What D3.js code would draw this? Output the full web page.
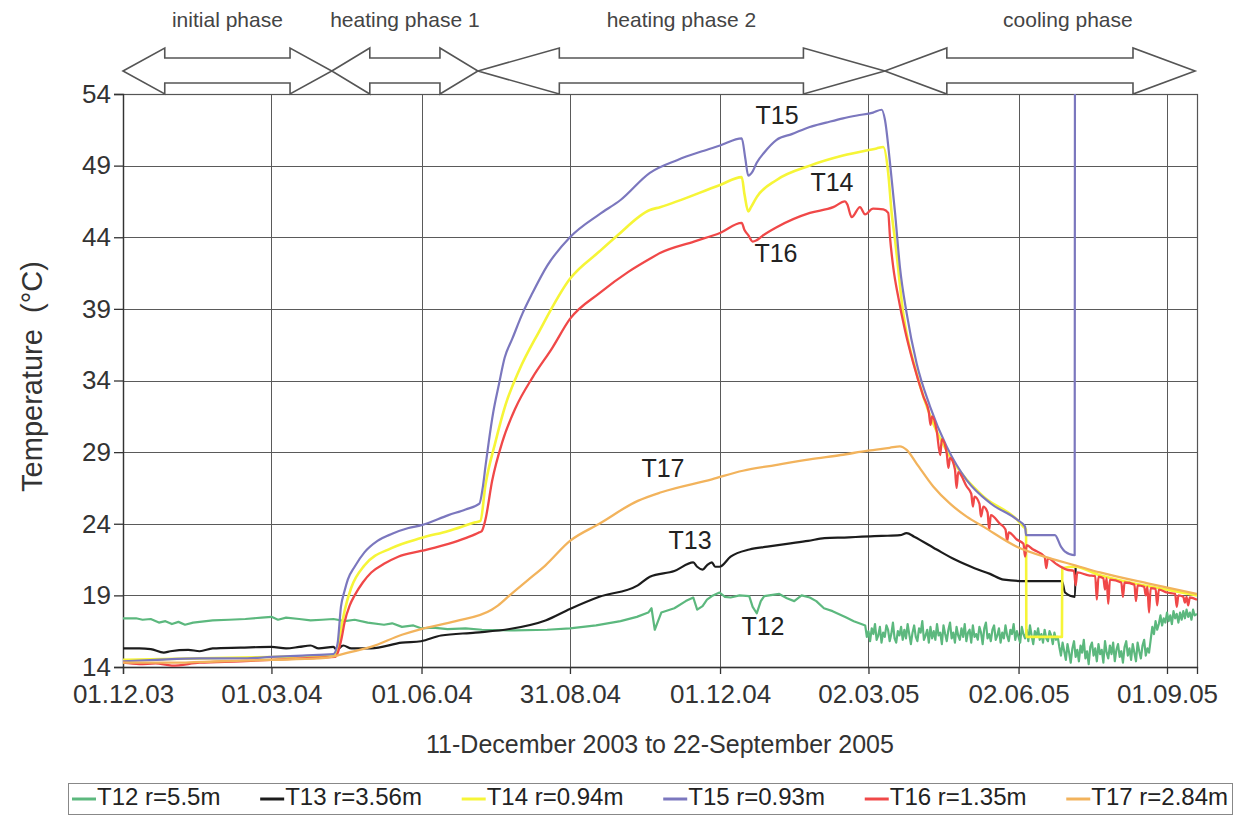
<!DOCTYPE html>
<html><head><meta charset="utf-8">
<script src="https://cdn.jsdelivr.net/npm/d3@7"></script>
<style>body{margin:0;background:#fff} text{font-family:"Liberation Sans",Arial,Helvetica,sans-serif}</style>
</head><body><svg id="c" width="1240" height="816"></svg>
<script>
// ---------- DATA ----------
const startDate = "2003-12-01";          // day 0
const endDay = 658.4;                     // last day shown (days since start)
const xTickDates = ["2003-12-01","2004-03-01","2004-06-01","2004-08-31","2004-12-01","2005-03-02","2005-06-02","2005-09-01"];
const yTicks = [14,19,24,29,34,39,44,49,54];
const seriesNames = ["T12","T13","T14","T15","T16","T17"];
const seriesRadii = ["r=5.5m","r=3.56m","r=0.94m","r=0.93m","r=1.35m","r=2.84m"];
const phaseNames = ["initial phase","heating phase 1","heating phase 2","cooling phase"];
const phaseStartDays = [0,128,217.6,467];
const phaseEndDays = [128,217.6,467,657.2];

// [days since 01.12.2003, temperature °C]
const t12 = [[0,17.4],[8,17.4],[12,17.3],[17,17.35],[22,17.1],[26,17.2],[30,17.0],[34,17.15],[38,16.95],[43,17.1],[47,17.15],[55,17.25],[65,17.3],[75,17.35],[85,17.45],[91,17.5],[95,17.3],[100,17.45],[108,17.35],[115,17.25],[122,17.3],[129,17.35],[136,17.2],[142,17.3],[150,17.1],[160,16.95],[165,17.05],[171,16.8],[178,16.9],[182.7,16.7],[190,16.75],[199,16.65],[210,16.7],[220,16.6],[240,16.55],[260,16.6],[274,16.7],[290,16.9],[305,17.2],[315,17.5],[322,17.8],[324,18.1],[326,16.6],[328,17.2],[330,17.8],[338,18.1],[345,18.6],[349.6,18.85],[352,18.0],[355.3,18.25],[358,18.7],[361,18.95],[365.7,19.2],[369,18.9],[372.5,18.85],[378,19.0],[383.9,18.95],[386,18.2],[388.5,17.75],[391,18.6],[393.1,18.95],[402.3,19.1],[407,18.8],[411.5,18.6],[416,19.0],[421,18.85],[425,18.6],[429.7,18.1],[435,17.9],[443.4,17.45],[448,17.2],[452.6,17.0],
[455,16.9],[456,16.1],[457,16.5],[458,15.8],[459,16.7],[460,16.3],[461,17.0],[462,15.9],[463,16.2],[464,16.8],[465,15.7],[466,16.4],[467,16.1],[468,16.9],[469,16.6],[470,15.8],[471,16.3],[472,17.1],[473,16.0],[474,15.7],[475,16.5],[476,16.2],[477,16.8],[478,15.9],[479,16.6],[480,16.0],[481,17.0],[482,16.3],[483,15.6],[484,16.4],[485,16.9],[486,16.1],[487,15.8],[488,16.7],[489,16.4],[490,17.2],[491,15.9],[492,16.2],[493,16.6],[494,15.7],[495,16.8],[496,16.0],[497,16.5],[498,15.9],[499,17.0],[500,16.2],[501,16.4],[502,15.6],[503,16.9],[504,16.3],[505,15.8],[506,16.6],[507,17.1],[508,16.0],[509,16.4],[510,15.7],[511,16.8],[512,16.2],[513,15.9],[514,16.7],[515,16.1],[516,17.0],[517,15.8],[518,16.4],[519,16.6],[520,15.7],[521,16.9],[522,16.1],[523,16.3],[524,15.9],[525,16.8],[526,16.4],[527,15.6],[528,16.7],[529,17.1],[530,16.0],[531,16.3],[532,15.8],[533,16.6],[534,16.9],[535,15.9],[536,16.2],[537,16.7],[538,15.7],[539,16.4],[540,16.0],[541,16.9],[542,16.2],[543,15.8],[544,16.6],[545,16.3],[546,17.0],[547,15.9],[548,16.5],[549,16.1],[550,15.7],[551,16.8],[552,16.3],[553,16.0],[554,16.6],[555,15.8],[556,16.9],[557,16.2],[558,15.6],[559,16.5],[560,16.1],[561,16.7],[562,15.9],[563,16.3],[564,15.7],[565,16.6],[566,16.0],[567,15.8],[568,16.5],[569,16.2],[570,15.6],[571,16.4],[572,15.9],[573,16.1],
[574,15.4],[575,14.8],[576,15.7],[577,15.1],[578,14.5],[579,15.6],[580,15.0],[581,14.3],[582,15.3],[583,15.8],[584,14.7],[585,15.2],[586,14.4],[587,15.5],[588,15.0],[589,15.9],[590,14.6],[591,15.1],[592,14.2],[593,15.4],[594,15.7],[595,14.8],[596,15.3],[597,14.4],[598,15.6],[599,14.9],[600,15.2],[601,14.3],[602,15.8],[603,15.0],[604,14.6],[605,15.5],[606,14.9],[607,15.7],[608,14.4],[609,15.2],[610,15.6],[611,14.7],[612,15.1],[613,14.3],[614,15.4],[615,15.8],[616,14.8],[617,15.3],[618,14.5],[619,15.6],[620,15.0],[621,14.4],[622,15.7],[623,15.1],[624,14.6],[625,15.5],[626,15.9],[627,14.8],[628,15.3],[629,15.0],
[630,15.9],[631,16.8],[632,16.3],[633,17.2],[634,16.6],[635,17.0],[636,17.6],[637,16.9],[638,17.4],[639,17.1],[640,17.8],[641,17.2],[642,17.6],[643,17.0],[644,17.9],[645,17.4],[646,17.7],[647,17.1],[648,17.8],[649,17.3],[650,17.9],[651,17.4],[652,18.0],[653,17.5],[654,17.8],[655,17.3],[656,18.0],[657,17.6],[658.4,17.7]];

const t13 = [[0,15.3],[10,15.3],[17,15.25],[25,15.0],[29,15.1],[40,15.2],[47,15.1],[55,15.3],[72,15.35],[91,15.4],[100,15.3],[108,15.4],[115,15.5],[120,15.3],[129,15.4],[131,15.2],[135,15.5],[140,15.3],[152,15.3],[171,15.7],[182.7,15.8],[195,16.2],[216,16.4],[237,16.65],[259,17.25],[274,18.05],[292,18.9],[315.6,19.7],[323,20.3],[338,20.7],[349.6,21.3],[352,21.0],[355.3,20.8],[358,21.1],[361,21.3],[363,21.0],[365.7,21.0],[372.5,21.7],[384,22.2],[395,22.4],[407,22.6],[420,22.8],[430,23.0],[445,23.05],[453,23.1],[465,23.15],[476.3,23.2],[480.4,23.35],[485,23.1],[498.8,22.2],[510,21.5],[522,20.9],[531.5,20.5],[540,20.1],[553,20.0],[575.6,20.0],[577.5,19.2],[583.6,18.9],[584,21.0]];

const t14 = [[0,14.5],[47,14.6],[91,14.7],[129,14.8],[131.7,15.3],[133.6,16.6],[136,18.0],[139.8,19.5],[148.1,21.1],[164.6,22.3],[182.7,23.0],[199.5,23.5],[216,24.1],[219.1,24.2],[222.2,26.7],[228.3,29.7],[234.5,32.3],[242.8,34.7],[255,37.4],[274,41.1],[292,43.0],[302.4,44.05],[323,45.9],[329.2,46.1],[366,47.65],[379.3,48.2],[381,47.0],[383.3,45.8],[385,46.1],[388.5,46.8],[400.7,48.0],[421.1,49.0],[441.4,49.7],[462,50.2],[466.1,50.3],[469.1,48.5],[471.2,45.7],[473.3,43.8],[478.3,38.7],[486.5,34.5],[496.7,31.0],[507,28.7],[527.4,25.9],[547.9,24.3],[551.9,23.8],[553.6,23.6],[553.8,16.1],[575.6,16.1],[575.8,20.9],[583.6,21.0],[598.9,20.4],[617.3,19.9],[640,19.4],[658.4,19.0]];

const t15 = [[0,14.4],[20,14.5],[47,14.6],[72,14.6],[91,14.7],[110,14.8],[129,14.9],[131.5,15.6],[133.6,18.2],[135.8,19.3],[137.8,20.1],[142,21.0],[148,22.0],[156,22.8],[165,23.3],[175,23.7],[183,23.9],[199.5,24.6],[210,25.0],[218.5,25.4],[220.5,26.5],[222.2,28.0],[224.2,29.7],[227,31.8],[230.4,33.7],[234,35.6],[238.6,36.9],[245,38.7],[251,40.1],[260,42.0],[274,44.0],[292,45.6],[305,46.6],[323,48.5],[340,49.4],[355,50.0],[366,50.4],[379.3,50.9],[381.5,49.5],[383.3,48.3],[386,48.6],[388.5,49.2],[393,49.9],[400.7,50.8],[410,51.2],[421,51.7],[431,52.0],[441.4,52.3],[450,52.5],[459.8,52.7],[465.1,52.9],[467.1,52.2],[470.2,49.2],[473.3,45.7],[476.3,41.9],[480.4,38.7],[486.5,35.2],[494.7,32.2],[504.9,29.4],[517.2,27.05],[531.5,25.45],[547.9,24.3],[553,23.8],[553.6,23.2],[571.3,23.2],[575,22.4],[577.5,22.05],[583.4,21.8],[583.6,60]];

const t16 = [[0,14.3],[10,14.2],[20,14.25],[30,14.1],[47,14.3],[72,14.4],[91,14.5],[110,14.6],[130,14.7],[131.7,15.0],[134,16.0],[135.8,17.1],[139,18.3],[142,19.0],[147,19.9],[152.2,20.6],[160,21.2],[168.7,21.7],[182.7,22.1],[199.5,22.6],[210,23.0],[218.5,23.4],[220,23.5],[222.2,24.3],[226.3,27.0],[232.5,29.7],[240.7,32.1],[251,34.2],[263.3,36.3],[274,38.3],[292.1,40.1],[310,41.6],[323,42.5],[329.2,42.9],[350,43.7],[366,44.3],[379.3,45.0],[381,44.5],[383.3,44.15],[386,43.7],[388.5,43.8],[392,44.1],[400.7,44.7],[421.1,45.7],[435.4,46.1],[442.6,46.5],[444,46.3],[446.7,45.4],[451.8,46.1],[454.9,45.6],[459.8,46.0],[466.1,45.95],[469.1,45.7],[470.2,44.0],[472.2,41.9],[475.3,39.8],[479.4,37.5],[484.5,35.2],[490.6,32.9],[494,31.8],[495,30.9],[496,31.5],[498.8,30.5],[501,28.8],[502,29.9],[505,28.9],[506,27.9],[507,28.6],[510,27.8],[511,26.5],[512,27.6],[517.2,26.6],[520,26.1],[521,25.2],[522,25.9],[525,25.4],[526,24.5],[527.4,25.2],[530,24.8],[531,23.6],[532,24.6],[537.6,24.0],[541,23.6],[542,22.8],[543,23.4],[547.9,22.9],[552,22.6],[553,21.7],[554,22.5],[558,22.2],[565,21.7],[566,20.9],[567,21.6],[572,21.2],[578.5,20.8],[583,20.7],[584,19.7],[585,20.6],[592,20.4],[596,20.35],[597,18.7],[598,20.3],[601,20.2],[602,19.4],[603,20.2],[604,18.4],[605,20.1],[612,19.9],[613,18.9],[614,19.9],[620,19.75],[621,18.6],[622,19.7],[626,19.6],[627,19.0],[628,19.6],[629,17.8],[630,19.5],[633,19.45],[634,18.3],[635,19.4],[640,19.2],[645,19.1],[646,18.2],[647,19.0],[650,18.9],[651,18.5],[652,18.9],[653,18.3],[654,18.85],[658.4,18.7]];

const t17 = [[0,14.3],[30,14.3],[60,14.4],[91,14.5],[120,14.6],[129.3,14.75],[138,15.0],[152,15.4],[171,16.25],[182.7,16.65],[204,17.2],[226,18.0],[230,18.3],[237,19.0],[248,20.05],[259,21.1],[274,22.8],[292,24.0],[315.6,25.6],[330,26.2],[361,27.1],[380,27.7],[400,28.1],[421,28.5],[440,28.8],[456.7,29.1],[470,29.3],[476.3,29.4],[480.4,29.15],[486.5,28.2],[496.7,26.6],[507,25.4],[517.2,24.5],[527.4,23.8],[547.9,22.4],[568,21.6],[583.6,21.1],[598.9,20.6],[629.6,19.8],[658.4,19.1]];

const seriesData = [t12,t13,t14,t15,t16,t17];

// ---------- STYLE / LAYOUT ----------
const colors = ["#5cb87e","#1c1c1c","#f6f537","#7b77be","#f04848","#f2b35c"];
const widths = [2.2,2.2,2.6,2.2,2.3,2.3];
const curves = [d3.curveLinear,d3.curveMonotoneX,d3.curveMonotoneX,d3.curveMonotoneX,d3.curveMonotoneX,d3.curveMonotoneX];
const M = {left:123, right:1197, top:94, bottom:667};
const FONT_TICK = 26;
const annot = [ // label anchors in data units
  {t:"T15", d:401, v:52.4}, {t:"T14", d:434.6, v:47.7}, {t:"T16", d:400.3, v:42.75},
  {t:"T17", d:331, v:27.75}, {t:"T13", d:347.6, v:22.7}, {t:"T12", d:392.3, v:16.7}];

const svg = d3.select("#c");
svg.append("rect").attr("width",1240).attr("height",816).attr("fill","#fff");
const parse = d3.utcParse("%Y-%m-%d");
const t0 = parse(startDate);
const dayToDate = d => new Date(t0.getTime() + d*864e5);
const x = d3.scaleUtc().domain([t0, dayToDate(endDay)]).range([M.left, M.right]);
const y = d3.scaleLinear().domain([14,54]).range([M.bottom, M.top]);
const tickDates = xTickDates.map(parse);

// grid
const grid = svg.append("g").attr("stroke","#5a5a5a").attr("stroke-width",1);
grid.selectAll(".h").data(yTicks.slice(1)).join("line")
  .attr("x1",M.left).attr("x2",M.right).attr("y1",d=>Math.round(y(d))+0.5).attr("y2",d=>Math.round(y(d))+0.5);
grid.selectAll(".v").data(tickDates.slice(1)).join("line")
  .attr("y1",M.top).attr("y2",M.bottom).attr("x1",d=>Math.round(x(d))+0.5).attr("x2",d=>Math.round(x(d))+0.5);
svg.append("rect").attr("x",M.left+0.5).attr("y",M.top+0.5).attr("width",M.right-M.left).attr("height",M.bottom-M.top)
  .attr("fill","none").attr("stroke","#555").attr("stroke-width",1.2);

// axes
const ya = svg.append("g").attr("transform",`translate(${M.left},0)`)
  .call(d3.axisLeft(y).tickValues(yTicks).tickSize(9).tickPadding(3));
ya.selectAll("text").attr("font-size",FONT_TICK).attr("fill","#333").attr("font-family","Liberation Sans, Arial, sans-serif");
ya.selectAll("line,path").attr("stroke","#333").attr("stroke-width",1.3);
const xa = svg.append("g").attr("transform",`translate(0,${M.bottom})`)
  .call(d3.axisBottom(x).tickValues(tickDates).tickFormat(d3.utcFormat("%d.%m.%y")).tickSize(7).tickPadding(11));
xa.selectAll("text").attr("font-size",FONT_TICK).attr("fill","#333").attr("font-family","Liberation Sans, Arial, sans-serif");
xa.selectAll("line,path").attr("stroke","#333").attr("stroke-width",1.3);

// axis titles
svg.append("text").attr("transform",`translate(34,${(M.top+M.bottom)/2-4}) rotate(-90)`)
  .attr("text-anchor","middle").attr("dominant-baseline","middle").attr("font-size",29).attr("fill","#333")
  .text("Temperature\u00a0\u00a0(\u00b0C)");
svg.append("text").attr("x",(M.left+M.right)/2).attr("y",753).attr("text-anchor","middle")
  .attr("font-size",25).attr("fill","#333").text("11-December 2003 to 22-September 2005");

// series
svg.append("clipPath").attr("id","clip").append("rect")
  .attr("x",M.left).attr("y",M.top).attr("width",M.right-M.left).attr("height",M.bottom-M.top);
svg.append("g").attr("clip-path","url(#clip)").selectAll("path").data(seriesData).join("path")
  .attr("d",(d,i)=>d3.line().curve(curves[i]).x(p=>x(dayToDate(p[0]))).y(p=>y(p[1]))(d))
  .attr("fill","none").attr("stroke",(d,i)=>colors[i]).attr("stroke-width",(d,i)=>widths[i])
  .attr("stroke-linejoin","round");

// line labels
svg.append("g").selectAll("text").data(annot).join("text")
  .attr("x",d=>x(dayToDate(d.d))).attr("y",d=>y(d.v)).attr("text-anchor","middle").attr("dominant-baseline","middle")
  .attr("font-size",25).attr("fill","#222").text(d=>d.t);

// phase arrows
const ph = svg.append("g");
phaseNames.forEach((name,i)=>{
  const x1 = x(dayToDate(phaseStartDays[i])), x2 = x(dayToDate(phaseEndDays[i]));
  const h = Math.max(38, 0.2*(x2-x1));
  const yc = 71, yt = 48, yb = 94, bt = 58, bb = 83;
  const pts = [[x1,yc],[x1+h,yt],[x1+h,bt],[x2-h,bt],[x2-h,yt],[x2,yc],[x2-h,yb],[x2-h,bb],[x1+h,bb],[x1+h,yb]];
  ph.append("polygon").attr("points",pts.map(p=>p.join(",")).join(" "))
    .attr("fill","none").attr("stroke","#555").attr("stroke-width",1.6).attr("stroke-linejoin","miter");
  const lx = name==="cooling phase" ? (x1+x2)/2+28 : (x1+x2)/2;
  ph.append("text").attr("x",lx).attr("y",27).attr("text-anchor","middle").attr("font-size",21).attr("fill","#444").text(name);
});

// legend
const lg = svg.append("g");
lg.append("rect").attr("x",68.5).attr("y",783.5).attr("width",1164).attr("height",31).attr("fill","#fff").attr("stroke","#888");
const items = seriesNames.map((n,i)=>{
  const g = lg.append("g");
  g.append("line").attr("x1",0).attr("x2",24).attr("y1",0).attr("y2",0).attr("stroke",colors[i]).attr("stroke-width",3);
  const t = g.append("text").attr("x",25).attr("y",0).attr("dominant-baseline","middle").attr("font-size",24).attr("fill","#222").text(n+" "+seriesRadii[i]);
  return {g, w: 25 + t.node().getComputedTextLength()};
});
const totalW = d3.sum(items,d=>d.w);
const gap = (1228 - 72 - totalW)/(items.length-1);
let cx = 72;
items.forEach(it=>{ it.g.attr("transform",`translate(${cx},799)`); cx += it.w + gap; });
</script></body></html>
